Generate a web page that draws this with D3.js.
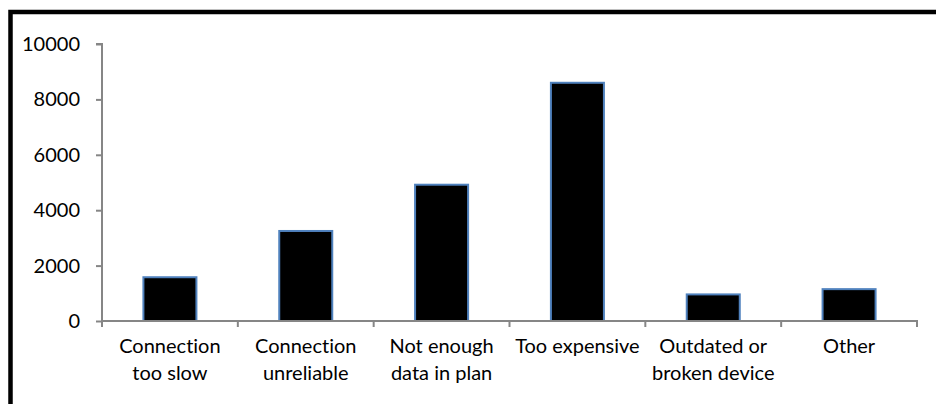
<!DOCTYPE html>
<html>
<head>
<meta charset="utf-8">
<script src="https://cdn.jsdelivr.net/npm/d3@7/dist/d3.min.js"></script>
<style>
  html, body { margin: 0; padding: 0; background: #fff; }
  svg { display: block; }
  text { font-family: Lato, "Open Sans", sans-serif; fill: #000; font-variant-ligatures: none; font-feature-settings: "liga" 0, "clig" 0; }
</style>
</head>
<body>
<svg id="chart" width="936" height="404"></svg>
<script>
const categories = [
  ["Connection", "too slow"],
  ["Connection", "unreliable"],
  ["Not enough", "data in plan"],
  ["Too expensive"],
  ["Outdated or", "broken device"],
  ["Other"]
];
const values = [1580, 3250, 4920, 8600, 960, 1150];
const yTicks = [0, 2000, 4000, 6000, 8000, 10000];

(function () {
const svg = d3.select("#chart");
svg.append("rect").attr("width", 936).attr("height", 404).attr("fill", "#fff");
// outer frame
svg.append("rect")
  .attr("x", 10.5).attr("y", 12).attr("width", 1200).attr("height", 1200)
  .attr("fill", "none").attr("stroke", "#000").attr("stroke-width", 4.5);

const pLeft = 102, pRight = 917, pTop = 44, pBottom = 321;
const keys = categories.map((c, i) => i);
const x = d3.scaleBand().domain(keys).range([pLeft, pRight]).padding(0);
const y = d3.scaleLinear().domain([0, 10000]).range([pBottom, pTop]);
const barW = x.bandwidth() * 0.405;
const axisColor = "#868686";
const fontSize = 20;

// bars
svg.append("g").selectAll("rect").data(values).join("rect")
  .attr("x", (d, i) => x(i) + x.bandwidth() / 2 - barW / 2 + 1)
  .attr("y", d => y(d))
  .attr("width", barW - 2)
  .attr("height", d => pBottom - y(d))
  .attr("fill", "#000")
  .attr("stroke", "#4F81BD")
  .attr("stroke-width", 2);

// y axis
const yAxis = svg.append("g").attr("transform", `translate(${pLeft},0)`)
  .call(d3.axisLeft(y).tickValues(yTicks).tickSize(6).tickPadding(16).tickFormat(d3.format("d")));
yAxis.select(".domain").attr("stroke", axisColor).attr("stroke-width", 2).attr("d", `M-6,${pTop}H0V${pBottom}`);
yAxis.selectAll(".tick line").attr("stroke", axisColor).attr("stroke-width", 2);
yAxis.selectAll(".tick text").attr("font-size", fontSize).attr("font-family", "Lato").attr("fill", "#000");

// x axis line and boundary ticks
const boundaries = keys.map(i => x(i)).concat([pRight]);
svg.append("line").attr("x1", pLeft).attr("x2", pRight + 1).attr("y1", pBottom).attr("y2", pBottom)
  .attr("stroke", axisColor).attr("stroke-width", 2);
svg.append("g").selectAll("line").data(boundaries).join("line")
  .attr("x1", d => d).attr("x2", d => d)
  .attr("y1", pBottom).attr("y2", pBottom + 6)
  .attr("stroke", axisColor).attr("stroke-width", 2);

// x labels
const lab = svg.append("g").selectAll("text").data(categories).join("text")
  .attr("x", (d, i) => x(i) + x.bandwidth() / 2)
  .attr("y", 353)
  .attr("text-anchor", "middle")
  .attr("font-size", fontSize);
lab.selectAll("tspan").data(d => d).join("tspan")
  .attr("x", function() { return d3.select(this.parentNode).attr("x"); })
  .attr("dy", (d, j) => j === 0 ? 0 : 27)
  .text(d => d);
})();
</script>
</body>
</html>
